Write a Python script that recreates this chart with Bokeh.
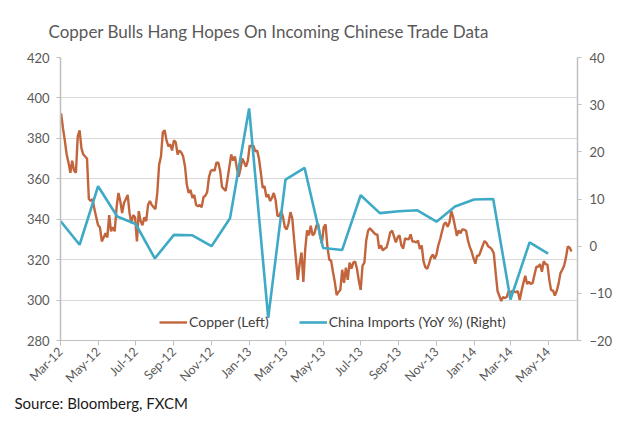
import math
import pandas as pd
from bokeh.plotting import figure
from bokeh.models import (Range1d, LinearAxis, FixedTicker, Legend, LegendItem,
                          Title, ColumnDataSource)
from bokeh.embed import file_html
from bokeh.resources import INLINE

# ---------------- data ----------------
title_text = "Copper Bulls Hang Hopes On Incoming Chinese Trade Data"
source_text = "Source: Bloomberg, FXCM"

# China imports YoY %, monthly Mar-12 .. May-14
imports_start = "2012-03-01"
imports_yoy = [5.3, 0.3, 12.7, 6.3, 4.7, -2.6, 2.4, 2.3, 0.0, 5.9,
               29.2, -15.2, 14.1, 16.6, -0.4, -0.8, 10.8, 7.0, 7.4, 7.6,
               5.2, 8.4, 9.9, 10.0, -11.3, 0.8, -1.6]

# Copper price (US cents/lb), every 3 days from 2012-03-02
copper_start = "2012-03-02"
copper = [
    392.4, 385, 379, 372, 368, 363, 369, 364, 363, 381,
    384, 375, 372, 371, 370, 350, 349, 350, 345, 341,
    337, 336, 329, 331, 333, 331, 342, 334, 336, 334,
    346, 353, 349, 343, 348, 350, 352, 343, 338, 342,
    341, 329, 344, 339, 337, 341, 339, 347, 349, 347,
    346, 345, 353, 367, 371, 383, 384, 379, 376, 377,
    374, 379, 378, 372, 374, 373, 371, 366, 357, 353,
    354.5, 350.5, 352, 347, 346.5, 347, 345.9, 351, 351.6, 353.5,
    361, 364, 364.5, 364, 368, 368, 364, 356, 355, 354,
    360, 366, 372, 369, 371, 365.5, 361, 365, 370, 368,
    366, 369, 376.5, 376, 376.4, 373.5, 374, 370, 363, 355.5,
    356.3, 351, 352.3, 349, 350.5, 353, 349.5, 341.7, 341.5, 344,
    341, 336, 335, 338, 343.5, 340.5, 330, 320, 310, 318,
    323.5, 309, 325, 334.5, 332, 336.8, 332, 333, 336.8, 337.6,
    332, 328, 336, 337.5, 326.5, 320, 319.5, 314, 309, 302.5,
    304, 305, 315, 308.5, 316, 310, 318.5, 315.5, 318.5, 319,
    315.5, 309.5, 305, 317, 318.5, 329.5, 334.3, 335.5, 334.5, 333.5,
    332.5, 332.5, 325.5, 327, 324.5, 325.5, 326, 329.5, 333.5, 334.3,
    331.5, 328.5, 331, 332, 327, 325.5, 330.5, 330.2, 330, 332.5,
    329, 329, 328.5, 329.5, 325.3, 327, 319, 316.2, 315.5, 318,
    321.1, 322.5, 320.5, 322.5, 327.2, 330.2, 334, 337.5, 338.4, 336.3,
    338.4, 344, 341, 336.5, 331.8, 334.5, 333, 335, 334.8, 334.3,
    329.5, 326.3, 324, 320.7, 318, 322, 322, 324.4, 327, 329.2,
    328.3, 326.5, 326, 325, 323, 313.5, 304.5, 302, 299.5, 301.5,
    301, 301.5, 304.5, 303.7, 304.5, 304.2, 303.9, 304.4, 300, 304.6,
    308.5, 312, 308, 309, 307.9, 308.5, 312.5, 316.5, 316.5, 317.8,
    314, 319.2, 317.8, 317.5, 310, 304.8, 304.8, 302.2, 304.5, 308,
    313.2, 315, 317, 321, 326.5, 326, 324,
]

x_tick_labels = ["Mar-12", "May-12", "Jul-12", "Sep-12", "Nov-12", "Jan-13", "Mar-13",
                 "May-13", "Jul-13", "Sep-13", "Nov-13", "Jan-14", "Mar-14", "May-14"]
x_tick_dates = ["2012-03-01", "2012-05-01", "2012-07-01", "2012-09-01", "2012-11-01",
                "2013-01-01", "2013-03-01", "2013-05-01", "2013-07-01", "2013-09-01",
                "2013-11-01", "2014-01-01", "2014-03-01", "2014-05-01"]
left_ticks = [280, 300, 320, 340, 360, 380, 400, 420]
right_ticks = [-20, -10, 0, 10, 20, 30, 40]
x_start, x_end = "2012-03-01", "2014-06-17 18:00"

# ---------------- build ----------------
imports_dates = pd.date_range(imports_start, periods=len(imports_yoy), freq="MS")
copper_dates = pd.date_range(copper_start, periods=len(copper), freq="3D")

src_cu = ColumnDataSource(dict(x=copper_dates, y=copper))
src_im = ColumnDataSource(dict(x=imports_dates, y=imports_yoy))

FONT = "Lato"
GRAY = "#595959"
AXIS = "#BFBFBF"
COPPER_C = "#C2653D"
BLUE_C = "#3FAAC6"

p = figure(width=621, height=420, output_backend="svg", toolbar_location=None,
           x_axis_type="datetime",
           x_range=Range1d(pd.Timestamp(x_start), pd.Timestamp(x_end)),
           y_range=Range1d(left_ticks[0], left_ticks[-1]),
           min_border_left=60, min_border_right=44, min_border_top=57,
           min_border_bottom=80)
p.extra_y_ranges = {"right": Range1d(right_ticks[0], right_ticks[-1])}
p.outline_line_color = None
p.background_fill_color = "white"
p.border_fill_color = "white"

p.title.text = title_text
p.title.align = "left"
p.title.offset = -12
p.title.text_font = FONT
p.title.text_font_size = "17px"
p.title.text_font_style = "normal"
p.title.text_color = GRAY
p.title.standoff = 32

tick_ms = [int(pd.Timestamp(d).value // 10**6) for d in x_tick_dates]
xa = p.xaxis[0]
xa.ticker = FixedTicker(ticks=tick_ms)
xa.major_label_overrides = {t: lab for t, lab in zip(tick_ms, x_tick_labels)}
xa.major_label_orientation = math.pi / 4
xa.minor_tick_line_color = None
xa.axis_line_color = AXIS
xa.major_tick_line_color = AXIS
xa.major_tick_out = 5
xa.major_tick_in = 0
xa.major_label_standoff = 4
xa.major_label_text_font = FONT
xa.major_label_text_font_size = "12.5px"
xa.major_label_text_color = GRAY

ya = p.yaxis[0]
ya.ticker = FixedTicker(ticks=left_ticks)
ya.minor_tick_line_color = None
ya.axis_line_color = AXIS
ya.axis_line_width = 1.5
ya.major_tick_line_color = AXIS
ya.major_tick_out = 4
ya.major_tick_in = 0
ya.major_label_standoff = 7
ya.major_label_text_font = FONT
ya.major_label_text_font_size = "13px"
ya.major_label_text_color = GRAY

ra = LinearAxis(y_range_name="right", ticker=FixedTicker(ticks=right_ticks))
ra.minor_tick_line_color = None
ra.axis_line_color = AXIS
ra.axis_line_width = 1.5
ra.major_tick_line_color = AXIS
ra.major_tick_out = 4
ra.major_tick_in = 0
ra.major_label_standoff = 8
ra.major_label_text_font = FONT
ra.major_label_text_font_size = "13px"
ra.major_label_text_color = GRAY
p.add_layout(ra, "right")

p.xgrid.visible = False
p.ygrid.ticker = FixedTicker(ticks=left_ticks)
p.ygrid.grid_line_color = "#D9D9D9"
p.ygrid.grid_line_width = 1

r_cu = p.line("x", "y", source=src_cu, line_color=COPPER_C, line_width=2.4)
r_im = p.line("x", "y", source=src_im, y_range_name="right",
              line_color=BLUE_C, line_width=2.6)

legend = Legend(items=[LegendItem(label="Copper (Left)", renderers=[r_cu]),
                       LegendItem(label="China Imports (YoY %) (Right)", renderers=[r_im])],
                location=(99, 10), orientation="horizontal",
                glyph_width=28, glyph_height=14, label_height=14, label_standoff=2,
                spacing=30, padding=0, margin=0,
                border_line_alpha=0, background_fill_alpha=0,
                label_text_font=FONT, label_text_font_size="14px",
                label_text_color="#404040")
p.add_layout(legend, "center")

src_title = Title(text=source_text, align="left", offset=-46, text_font=FONT,
                  text_font_size="15px", text_font_style="normal",
                  text_color="#1A1A1A", standoff=-3)
p.add_layout(src_title, "below")

open("out.html", "w").write(file_html(p, INLINE))
